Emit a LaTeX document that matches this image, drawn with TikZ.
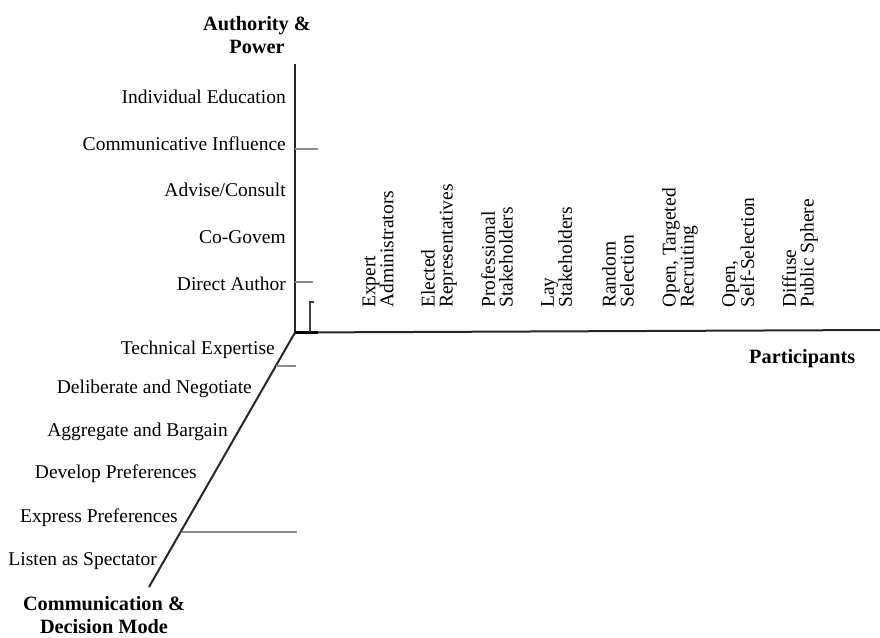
\documentclass[tikz,border=0pt]{standalone}
\usepackage{fontspec}
\setmainfont{Liberation Serif}
\begin{document}
\begin{tikzpicture}[x=1pt,y=-1pt,
  axis/.style={line width=2pt, draw=black!85},
  tick/.style={line width=2pt, draw=black!45},
  lbl/.style={font=\fontsize{19.5}{17.8}\selectfont, inner sep=0pt},
  ttl/.style={font=\fontsize{20.3}{23}\selectfont\bfseries, inner sep=0pt, align=center},
  col/.style={lbl, rotate=90, anchor=north west, align=left}]
\useasboundingbox (0,0) rectangle (880,637);
% axes
\coordinate (O) at (295,332.5);
\coordinate (Vtop) at (295,64);
\coordinate (Hend) at (880,330);
\coordinate (Dend) at (149,587);
\coordinate (Thk) at (318,332.5);
\draw[axis] (O) -- (Vtop);
\draw[axis] (O) -- (Hend);
\draw[axis] (O) -- (Dend);
\draw[line width=3.5pt, black] (O) -- (Thk);
% ticks
\coordinate (t1a) at (295,149); \coordinate (t1b) at (318,149);
\coordinate (t2a) at (295,282); \coordinate (t2b) at (313,282);
\coordinate (t3a) at (276,366); \coordinate (t3b) at (296,366);
\coordinate (t4a) at (182,532); \coordinate (t4b) at (297,532);
\draw[tick] (t1a) -- (t1b);
\draw[tick] (t2a) -- (t2b);
\draw[tick] (t3a) -- (t3b);
\draw[tick] (t4a) -- (t4b);
% bracket
\coordinate (b0) at (310,332); \coordinate (b1) at (310,302); \coordinate (b2) at (314,302);
\draw[line width=1.5pt, black!75] (b0) -- (b1) -- (b2);
% titles
\node[ttl, anchor=north] (tA) at (257,16) {Authority \&\\Power};
\node[ttl, anchor=north] (tC) at (104,596) {Communication \&\\Decision Mode};
\node[ttl, anchor=base west] (tP) at (749,363) {Participants};
% vertical axis labels
\node[lbl, anchor=base east] (v1) at (286,103) {Individual Education};
\node[lbl, anchor=base east] (v2) at (286,150) {Communicative Influence};
\node[lbl, anchor=base east] (v3) at (286,196) {Advise/Consult};
\node[lbl, anchor=base east] (v4) at (286,243) {Co-Govem};
\node[lbl, anchor=base east] (v5) at (286,290) {Direct Author};
% diagonal axis labels
\node[lbl, anchor=base east] (d1) at (275,354) {Technical Expertise};
\node[lbl, anchor=base east] (d2) at (252,393) {Deliberate and Negotiate};
\node[lbl, anchor=base east] (d3) at (228,436) {Aggregate and Bargain};
\node[lbl, anchor=base east] (d4) at (197,478) {Develop Preferences};
\node[lbl, anchor=base east] (d5) at (178,522) {Express Preferences};
\node[lbl, anchor=base east] (d6) at (157,565) {Listen as Spectator};
% participant columns
\node[col] (c1) at (362.5,308) {Expert\\Administrators};
\node[col] (c2) at (421,308) {Elected\\Representatives};
\node[col] (c3) at (481,308) {Professional\\Stakeholders};
\node[col] (c4) at (541,308) {Lay\\Stakeholders};
\node[col] (c5) at (602,308) {Random\\Selection};
\node[col] (c6) at (662,308) {Open, Targeted\\Recruiting};
\node[col] (c7) at (722,308) {Open,\\Self-Selection};
\node[col] (c8) at (782,308) {Diffuse\\Public Sphere};
\end{tikzpicture}
\end{document}
